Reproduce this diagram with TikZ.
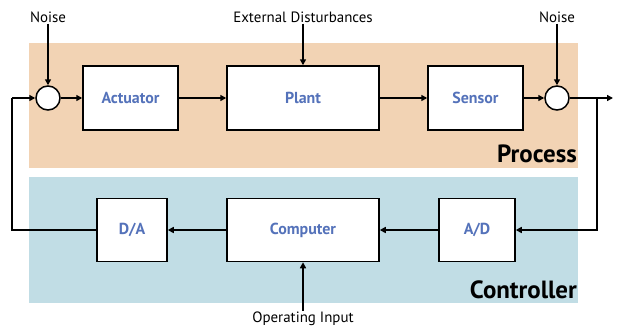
\documentclass[tikz,border=0pt]{standalone}
\usepackage{fontspec}
\setmainfont{PT Sans}
\usetikzlibrary{positioning, arrows.meta, calc}
\definecolor{procfill}{RGB}{242, 211, 180}
\definecolor{ctrlfill}{RGB}{193, 221, 229}
\definecolor{labelblue}{RGB}{84, 114, 186}

\begin{document}
\begin{tikzpicture}[x=1bp, y=-1bp,
      blockbox/.style={draw=black, fill=white, line width=1.5bp, minimum width=#1, minimum height=64bp, inner sep=0pt, font=\fontsize{16}{18}\selectfont\bfseries, text=labelblue},
      sumnode/.style={circle, draw=black, fill=white, line width=1.5bp, minimum size=24bp, inner sep=0pt},
      extlabel/.style={font=\fontsize{15}{17}\selectfont, inner sep=1pt},
      grouplabel/.style={font=\fontsize{25}{28}\selectfont\bfseries, inner sep=0pt},
      sigarrow/.style={-{Triangle[length=6bp, width=6bp]}, line width=1.6bp},
      sigline/.style={line width=1.6bp}
    ]
      \useasboundingbox (0,0) rectangle (618,330);

      % bands
      \fill[procfill] (29,43) rectangle (578,168);
      \fill[ctrlfill] (29,177) rectangle (578,303);
      \node[grouplabel, anchor=base east] (proc) at (577,162) {Process};
      \node[grouplabel, anchor=base east] (ctrl) at (577,298) {Controller};

      % process row
      \node[sumnode] (sum1) at (48,98) {};
      \node[blockbox=95bp] (act) at (130.5,98) {Actuator};
      \node[blockbox=152bp] (plant) at (303,98) {Plant};
      \node[blockbox=95bp] (sens) at (475.5,98) {Sensor};
      \node[sumnode] (sum2) at (557,98) {};

      % controller row
      \node[blockbox=70bp, minimum height=63bp] (da) at (132,230) {D/A};
      \node[blockbox=152bp, minimum height=63bp] (comp) at (303,230) {Computer};
      \node[blockbox=76bp, minimum height=63bp] (ad) at (477,230) {A/D};

      % inputs
      \node[extlabel] (noise1) at (48,17) {Noise};
      \node[extlabel] (noise2) at (557,17) {Noise};
      \node[extlabel] (dist) at (303,17) {External Disturbances};
      \node[extlabel] (opin) at (303,319) {Operating Input};

      \coordinate (out) at (613,98);
      \coordinate (br) at (597,98);
      \coordinate (fb) at (12,98);

      \draw[sigarrow] (noise1) -- (sum1);
      \draw[sigarrow] (noise2) -- (sum2);
      \draw[sigarrow] (dist) -- (plant);
      \draw[sigarrow] (opin) -- (comp);

      \draw[sigarrow] (sum1) -- (act);
      \draw[sigarrow] (act) -- (plant);
      \draw[sigarrow] (plant) -- (sens);
      \draw[sigarrow] (sens) -- (sum2);
      \draw[sigarrow] (sum2) -- (out);
      \draw[sigarrow] (br) |- (ad);
      \draw[sigarrow] (ad) -- (comp);
      \draw[sigarrow] (comp) -- (da);
      \draw[sigline] (da.west) -| (fb);
      \draw[sigarrow] (fb) -- (sum1);
    \end{tikzpicture}
\end{document}
